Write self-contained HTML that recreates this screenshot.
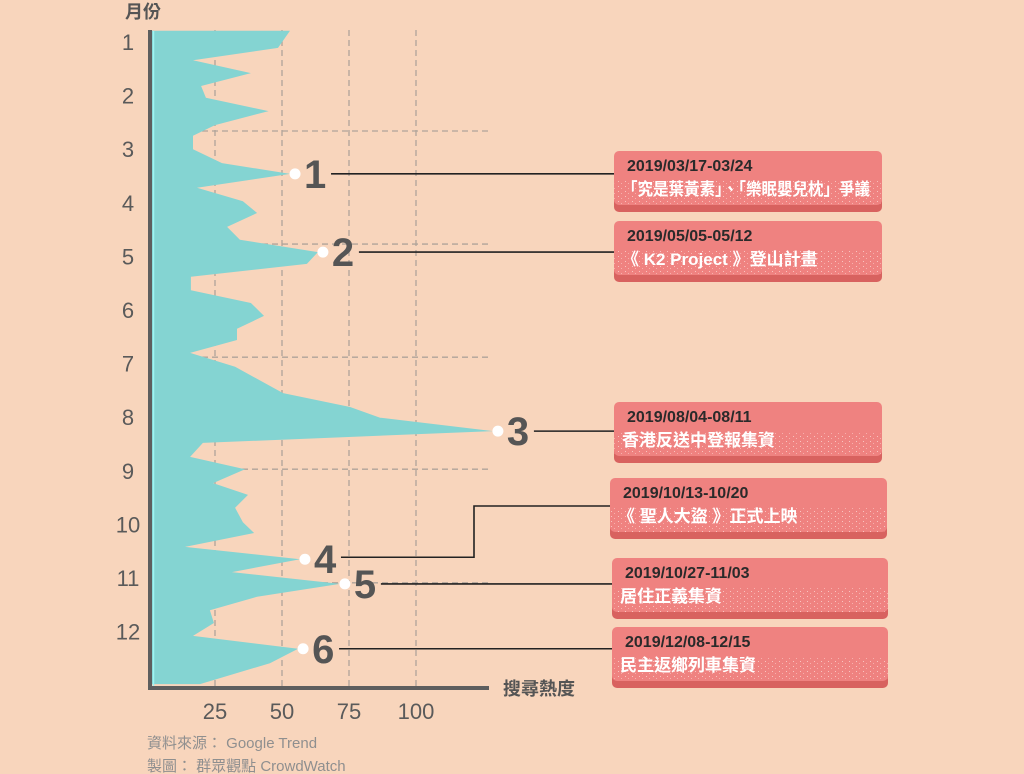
<!DOCTYPE html>
<html><head><meta charset="utf-8">
<style>
body{margin:0;background:#f8d5bc;width:1024px;height:774px;overflow:hidden;font-family:"Liberation Sans","Noto Sans CJK TC",sans-serif;}
svg{display:block}
.mlab{font-size:22px;fill:#5a5a5a;text-anchor:middle}
.xlab{font-size:22px;fill:#5a5a5a;text-anchor:middle}
.num{font-size:40px;font-weight:bold;fill:#555}
.d{font-size:16px;font-weight:bold;fill:#2a2a2a}
.t{font-size:17px;font-weight:bold;fill:#fff}
</style></head>
<body>
<svg id="chart" width="1024" height="774">
<defs>
<pattern id="spk" width="7" height="5" patternUnits="userSpaceOnUse"><rect x="2" y="1" width="1" height="1" fill="#f9c4c0"/><rect x="5" y="3" width="1" height="1" fill="#f7b0ad"/></pattern>
</defs>
<g id="grid"></g>
<path id="area" fill="#84d4d2"/>
<line x1="153.5" y1="31" x2="153.5" y2="686" stroke="#9ef4f2" stroke-width="1.5"/>
<line x1="150" y1="30" x2="150" y2="690" stroke="#5e5e5e" stroke-width="4"/>
<line x1="148" y1="688" x2="489" y2="688" stroke="#5e5e5e" stroke-width="4"/>
<text x="143" y="18" font-size="18" font-weight="bold" fill="#555" text-anchor="middle">月份</text>
<text x="539" y="695" font-size="18" font-weight="bold" fill="#555" text-anchor="middle">搜尋熱度</text>
<g id="ylabels"></g><g id="xlabels"></g>
<g id="annots"></g>
<text x="147" y="748" font-size="15" fill="#8f8f8f">資料來源： Google Trend</text>
<text x="147" y="771" font-size="15" fill="#8f8f8f">製圖： 群眾觀點 CrowdWatch</text>
</svg>
<script>
const monthPos=[0.79,1.11,1.34,1.58,1.82,2.04,2.29,2.55,2.75,3.0,3.26,3.46,3.72,3.97,4.19,4.45,4.69,4.92,5.14,5.38,5.63,5.87,6.11,6.35,6.56,6.80,7.06,7.55,7.81,8.01,8.26,8.48,8.74,8.97,9.23,9.45,9.69,9.96,10.16,10.42,10.65,10.89,11.11,11.35,11.60,11.84,12.08,12.32,12.59,12.98];
const values=[53,48.5,16.8,38.4,19.8,21.6,45,25,16.8,16.8,27.6,53,18.3,35.4,40.7,29.5,34.3,63.4,59.3,16,16,38.4,43.3,33.2,33.2,15.7,32.5,50.4,75.4,86.6,128.7,20.5,15.7,36.2,24.3,37.3,32.5,35.4,39.6,13.8,56.7,31.3,71.6,40.7,23.1,24.6,16.8,56,45.5,19.4];
const months=[1,2,3,4,5,6,7,8,9,10,11,12];
const xTicks=[25,50,75,100];
const hGrid=[2.66,4.77,6.88,8.97,11.09];
const eventIdx=[11,17,30,40,42,47];
const eventNums=["1","2","3","4","5","6"];
const eventDates=["2019/03/17-03/24","2019/05/05-05/12","2019/08/04-08/11","2019/10/13-10/20","2019/10/27-11/03","2019/12/08-12/15"];
const eventTitles=["「究是葉黃素」、「樂眠嬰兒枕」爭議","《 K2 Project 》登山計畫","香港反送中登報集資","《 聖人大盜 》正式上映","居住正義集資","民主返鄉列車集資"];
const boxes=[[614,151,268],[614,221,268],[614,402,268],[610,478,277],[612,558,276],[612,627,276]];

const X=v=>148+v*2.68;
const Y=m=>42+(m-1)*53.6;
const NS="http://www.w3.org/2000/svg";
function mk(tag,attrs,parent){const e=document.createElementNS(NS,tag);for(const k in attrs)e.setAttribute(k,attrs[k]);parent.appendChild(e);return e;}
const grid=document.getElementById('grid');
xTicks.forEach(v=>{const l=mk('line',{x1:X(v),x2:X(v),y1:30,y2:686,stroke:'#b0a49a','stroke-width':1.3,'stroke-dasharray':'6,4'},grid);

});
hGrid.forEach(m=>{const l=mk('line',{x1:152,x2:488,y1:Y(m),y2:Y(m),stroke:'#b0a49a','stroke-width':1.3,'stroke-dasharray':'6,4'},grid);

});
let d='M152,'+Y(monthPos[0]);
monthPos.forEach((m,i)=>{d+=' L'+X(values[i]).toFixed(1)+','+Y(m).toFixed(1);});
d+=' L152,'+Y(monthPos[monthPos.length-1])+' Z';
document.getElementById('area').setAttribute('d',d);
const yl=document.getElementById('ylabels');
months.forEach(m=>{const t=mk('text',{x:128,y:Y(m)+8,class:'mlab'},yl);t.textContent=m;

});
const xl=document.getElementById('xlabels');
xTicks.forEach(v=>{const t=mk('text',{x:X(v),y:719,class:'xlab'},xl);t.textContent=v;

});
const an=document.getElementById('annots');
eventIdx.forEach((idx,k)=>{
 const px=X(values[idx])+5, py=Y(monthPos[idx]);
 const g=mk('g',{},an);
 
 
 const [bx,by,bw]=boxes[k];
 const ly=(k===3)?py-2:py;
 const nx=px+9;
 const t=mk('text',{x:nx,y:py+14,class:'num'},g);t.textContent=eventNums[k];
 
 
 const lx=nx+27;
 if(k===3){mk('polyline',{points:`${lx},${ly} 474,${ly} 474,${by+28} ${bx},${by+28}`,fill:'none',stroke:'#222','stroke-width':1.6},g);}
 else mk('line',{x1:lx,x2:bx,y1:ly,y2:ly,stroke:'#222','stroke-width':1.6},g);
 const c=mk('circle',{cx:px,cy:py,r:5.5,fill:'#fff'},g);
 
 
 const b=mk('g',{},g);
 
 
 mk('rect',{x:bx,y:by+4,width:bw,height:57,rx:5,fill:'#d8625f'},b);
 mk('rect',{x:bx,y:by,width:bw,height:54,rx:5,fill:'#ef8280'},b);
 mk('rect',{x:bx,y:by+30,width:bw,height:24,rx:5,fill:'url(#spk)'},b);
 const t1=mk('text',{x:bx+13,y:by+20,class:'d'},b);t1.textContent=eventDates[k];
 const t2=mk('text',{x:bx+8,y:by+44,class:'t'},b);t2.textContent=eventTitles[k];
 const maxW=bw-20;
 if(t2.getComputedTextLength()>maxW){t2.setAttribute('textLength',maxW);t2.setAttribute('lengthAdjust','spacingAndGlyphs');}
});
</script>
</body></html>
